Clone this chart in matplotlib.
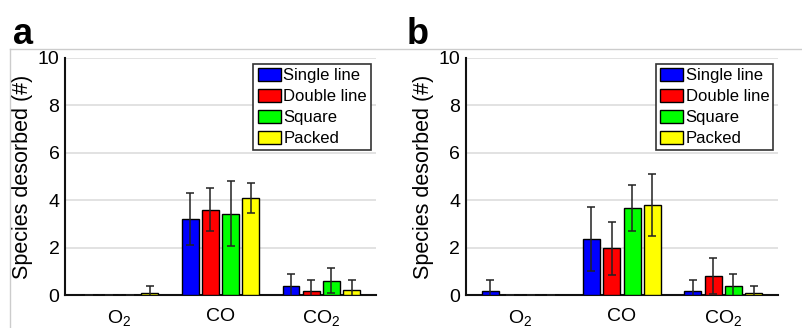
import matplotlib
matplotlib.use('Agg')
import matplotlib.pyplot as plt
import numpy as np
from matplotlib.lines import Line2D

plt.rcParams['font.family'] = ['Liberation Sans', 'DejaVu Sans']
plt.rcParams['mathtext.fontset'] = 'custom'
plt.rcParams['mathtext.rm'] = 'Liberation Sans'
plt.rcParams['mathtext.it'] = 'Liberation Sans:italic'
plt.rcParams['mathtext.bf'] = 'Liberation Sans:bold'

species = ['O$_2$', 'CO', 'CO$_2$']
series = ['Single line', 'Double line', 'Square', 'Packed']
colors = ['#0000ff', '#ff0000', '#00ff00', '#ffff00']

# panel a: rows = series, columns = species
vals_a = [[0.0, 3.2, 0.38],
          [0.0, 3.6, 0.15],
          [0.0, 3.43, 0.6],
          [0.07, 4.1, 0.2]]
errs_a = [[0.0, 1.1, 0.5],
          [0.0, 0.9, 0.47],
          [0.0, 1.38, 0.52],
          [0.32, 0.62, 0.42]]

# panel b
vals_b = [[0.17, 2.38, 0.17],
          [0.0, 1.98, 0.8],
          [0.0, 3.68, 0.38],
          [0.0, 3.8, 0.07]]
errs_b = [[0.46, 1.35, 0.46],
          [0.0, 1.12, 0.75],
          [0.0, 0.97, 0.49],
          [0.0, 1.3, 0.32]]


def draw_panel(ax, vals, errs, letter, letter_x):
    x = np.arange(len(species))
    step = 0.2
    for i, (name, c) in enumerate(zip(series, colors)):
        pos = x + (i - 1.5) * step
        ax.bar(pos, vals[i], width=0.167, color=c, edgecolor='black',
               linewidth=1, label=name, zorder=3)
        ax.errorbar(pos, vals[i], yerr=errs[i], fmt='none', ecolor='#222222',
                    elinewidth=1.1, capsize=3, capthick=1.1, zorder=4)
    ax.set_xlim(-0.54, 2.54)
    ax.set_ylim(0, 10)
    ax.set_yticks([0, 2, 4, 6, 8, 10])
    ax.set_xticks(x)
    ax.set_xticklabels(species, fontsize=14)
    ax.tick_params(axis='y', length=0, labelsize=14, pad=4)
    ax.tick_params(axis='x', length=0, labelsize=14, pad=9)
    ax.yaxis.grid(True, color='#dddddd', linewidth=1.2, zorder=0)
    ax.set_axisbelow(True)
    for s in ['top', 'right']:
        ax.spines[s].set_visible(False)
    for s in ['left', 'bottom']:
        ax.spines[s].set_linewidth(1.5)
        ax.spines[s].set_color('#111111')
    ax.set_ylabel('Species desorbed (#)', fontsize=15.5)
    ax.yaxis.set_label_coords(-0.103, 0.5)
    leg = ax.legend(loc='upper right', bbox_to_anchor=(0.985, 0.975), fontsize=12,
                    fancybox=False, framealpha=1, edgecolor='#333333',
                    handlelength=1.4, handleheight=0.85, handletextpad=0.15,
                    labelspacing=0.33, borderpad=0.25, borderaxespad=0)
    leg.get_frame().set_linewidth(1.2)
    ax.text(letter_x, 1.059, letter, transform=ax.transAxes, fontsize=26,
            fontweight='bold', va='baseline', ha='left')


fig = plt.figure(figsize=(8.03, 3.28), dpi=100)
ax_a = fig.add_axes([0.081, 0.1006, 0.387, 0.7226])
ax_b = fig.add_axes([0.580, 0.1006, 0.389, 0.7226])
draw_panel(ax_a, vals_a, errs_a, 'a', -0.167)
draw_panel(ax_b, vals_b, errs_b, 'b', -0.189)

# thin frame lines of the original layout
fig.add_artist(Line2D([10 / 803, 1], [1 - 49 / 328] * 2, color='#cccccc', linewidth=1))
fig.add_artist(Line2D([10 / 803] * 2, [0, 1 - 49 / 328], color='#cccccc', linewidth=1))

fig.savefig('out.png', dpi=100)
